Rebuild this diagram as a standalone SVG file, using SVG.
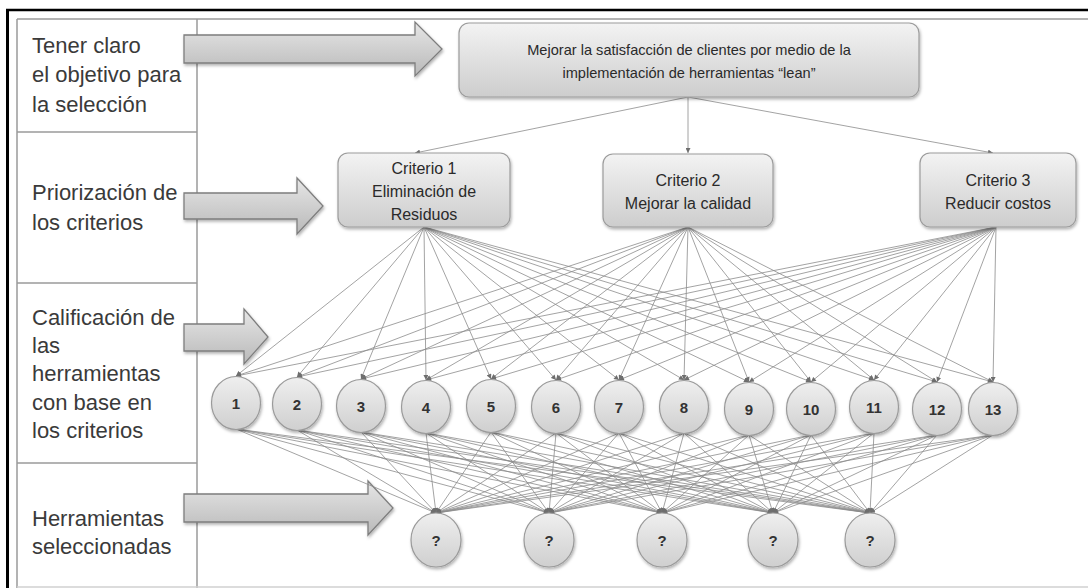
<svg xmlns="http://www.w3.org/2000/svg" width="1088" height="588" viewBox="0 0 1088 588">
<style>
.lbl{font-family:"Liberation Sans",Arial,sans-serif;font-size:22px;fill:#3a3a3a}
.nt{font-family:"Liberation Sans",Arial,sans-serif;font-size:16px;fill:#2a2a2a;text-anchor:middle}
.tt{font-family:"Liberation Sans",Arial,sans-serif;font-size:14.6px;fill:#2a2a2a;text-anchor:middle}
.num{font-family:"Liberation Sans",Arial,sans-serif;font-size:15px;font-weight:bold;fill:#333;text-anchor:middle}
.box{fill:url(#gBox);stroke:#9c9c9c;stroke-width:1.2;filter:url(#sh)}
.circ{fill:url(#gCirc);stroke:#9a9a9a;stroke-width:1.2;filter:url(#sh)}
.arr{fill:url(#gArr);stroke:#7e7e7e;stroke-width:1.3;filter:url(#sh)}
.grid{stroke:#9a9a9a;stroke-width:1.5;fill:none}
.conn line{stroke:#8c8c8c;stroke-width:0.8;marker-end:url(#ah)}
</style>
<defs>
<linearGradient id="gBox" x1="0" y1="0" x2="0" y2="1"><stop offset="0" stop-color="#f3f3f3"/><stop offset="1" stop-color="#cdcdcd"/></linearGradient>
<linearGradient id="gCirc" x1="0" y1="0" x2="0" y2="1"><stop offset="0" stop-color="#efefef"/><stop offset="1" stop-color="#cfcfcf"/></linearGradient>
<linearGradient id="gArr" x1="0" y1="0" x2="0" y2="1"><stop offset="0" stop-color="#e6e6e6"/><stop offset="1" stop-color="#b9b9b9"/></linearGradient>
<filter id="sh" x="-10%" y="-10%" width="130%" height="140%"><feDropShadow dx="1" dy="2" stdDeviation="1.5" flood-color="#000" flood-opacity="0.3"/></filter>
<marker id="ah" viewBox="0 0 10 10" refX="10" refY="5" markerWidth="6" markerHeight="5" markerUnits="userSpaceOnUse" orient="auto"><path d="M0,0 L10,5 L0,10 z" fill="#6e6e6e"/></marker>
</defs>
<rect width="1088" height="588" fill="#fff"/>
<line x1="7.5" y1="9" x2="7.5" y2="588" stroke="#000" stroke-width="3"/>
<line x1="6" y1="10" x2="1088" y2="10" stroke="#000" stroke-width="2.5"/>
<g id="table">
<line class="grid" x1="17" y1="19" x2="1088" y2="19"/>
<line class="grid" x1="17" y1="19" x2="17" y2="588"/>
<line class="grid" x1="197" y1="19" x2="197" y2="588"/>
<line class="grid" x1="17" y1="132" x2="197" y2="132"/>
<line class="grid" x1="17" y1="283" x2="197" y2="283"/>
<line class="grid" x1="17" y1="463" x2="197" y2="463"/>
<line x1="17" y1="587" x2="1088" y2="587" stroke="#d0d0d0" stroke-width="1.5"/>
</g>
<g id="labels">
<text class="lbl" x="32" y="53">Tener claro</text>
<text class="lbl" x="32" y="82">el objetivo para</text>
<text class="lbl" x="32" y="112">la selección</text>
<text class="lbl" x="32" y="200">Priorización de</text>
<text class="lbl" x="32" y="230">los criterios</text>
<text class="lbl" x="32" y="325">Calificación de</text>
<text class="lbl" x="32" y="353">las</text>
<text class="lbl" x="32" y="381">herramientas</text>
<text class="lbl" x="32" y="410">con base en</text>
<text class="lbl" x="32" y="438">los criterios</text>
<text class="lbl" x="32" y="526">Herramientas</text>
<text class="lbl" x="32" y="554">seleccionadas</text>
</g>
<g id="arrows">
<path class="arr" d="M184,35 L415,35 L415,22 L442,49 L415,76 L415,63 L184,63 Z"/>
<path class="arr" d="M184,193 L297,193 L297,178 L323,206 L297,234 L297,219 L184,219 Z"/>
<path class="arr" d="M184,324 L244,324 L244,309 L268,337 L244,364 L244,351 L184,351 Z"/>
<path class="arr" d="M184,494 L368,494 L368,481 L393,508 L368,535 L368,522 L184,522 Z"/>
</g>
<g class="conn" id="connectors">
<line x1="688" y1="97" x2="415" y2="153"/>
<line x1="688" y1="97" x2="688" y2="153"/>
<line x1="688" y1="97" x2="993" y2="153"/>
<line x1="424" y1="227" x2="236" y2="376"/>
<line x1="424" y1="227" x2="297" y2="377"/>
<line x1="424" y1="227" x2="361" y2="379"/>
<line x1="424" y1="227" x2="426" y2="380"/>
<line x1="424" y1="227" x2="491" y2="379"/>
<line x1="424" y1="227" x2="556" y2="380"/>
<line x1="424" y1="227" x2="619" y2="380"/>
<line x1="424" y1="227" x2="684" y2="380"/>
<line x1="424" y1="227" x2="749" y2="382"/>
<line x1="424" y1="227" x2="811" y2="382"/>
<line x1="424" y1="227" x2="874" y2="380"/>
<line x1="424" y1="227" x2="937" y2="382"/>
<line x1="424" y1="227" x2="993" y2="382"/>
<line x1="688" y1="227" x2="236" y2="376"/>
<line x1="688" y1="227" x2="297" y2="377"/>
<line x1="688" y1="227" x2="361" y2="379"/>
<line x1="688" y1="227" x2="426" y2="380"/>
<line x1="688" y1="227" x2="491" y2="379"/>
<line x1="688" y1="227" x2="556" y2="380"/>
<line x1="688" y1="227" x2="619" y2="380"/>
<line x1="688" y1="227" x2="684" y2="380"/>
<line x1="688" y1="227" x2="749" y2="382"/>
<line x1="688" y1="227" x2="811" y2="382"/>
<line x1="688" y1="227" x2="874" y2="380"/>
<line x1="688" y1="227" x2="937" y2="382"/>
<line x1="688" y1="227" x2="993" y2="382"/>
<line x1="996" y1="227" x2="236" y2="376"/>
<line x1="996" y1="227" x2="297" y2="377"/>
<line x1="996" y1="227" x2="361" y2="379"/>
<line x1="996" y1="227" x2="426" y2="380"/>
<line x1="996" y1="227" x2="491" y2="379"/>
<line x1="996" y1="227" x2="556" y2="380"/>
<line x1="996" y1="227" x2="619" y2="380"/>
<line x1="996" y1="227" x2="684" y2="380"/>
<line x1="996" y1="227" x2="749" y2="382"/>
<line x1="996" y1="227" x2="811" y2="382"/>
<line x1="996" y1="227" x2="874" y2="380"/>
<line x1="996" y1="227" x2="937" y2="382"/>
<line x1="996" y1="227" x2="993" y2="382"/>
<line x1="236" y1="429" x2="436" y2="513"/><line x1="236" y1="429" x2="549" y2="513"/><line x1="236" y1="429" x2="662" y2="513"/><line x1="236" y1="429" x2="773" y2="513"/><line x1="236" y1="429" x2="870" y2="513"/>
<line x1="297" y1="430" x2="436" y2="513"/><line x1="297" y1="430" x2="549" y2="513"/><line x1="297" y1="430" x2="662" y2="513"/><line x1="297" y1="430" x2="773" y2="513"/><line x1="297" y1="430" x2="870" y2="513"/>
<line x1="361" y1="432" x2="436" y2="513"/><line x1="361" y1="432" x2="549" y2="513"/><line x1="361" y1="432" x2="662" y2="513"/><line x1="361" y1="432" x2="773" y2="513"/><line x1="361" y1="432" x2="870" y2="513"/>
<line x1="426" y1="433" x2="436" y2="513"/><line x1="426" y1="433" x2="549" y2="513"/><line x1="426" y1="433" x2="662" y2="513"/><line x1="426" y1="433" x2="773" y2="513"/><line x1="426" y1="433" x2="870" y2="513"/>
<line x1="491" y1="432" x2="436" y2="513"/><line x1="491" y1="432" x2="549" y2="513"/><line x1="491" y1="432" x2="662" y2="513"/><line x1="491" y1="432" x2="773" y2="513"/><line x1="491" y1="432" x2="870" y2="513"/>
<line x1="556" y1="433" x2="436" y2="513"/><line x1="556" y1="433" x2="549" y2="513"/><line x1="556" y1="433" x2="662" y2="513"/><line x1="556" y1="433" x2="773" y2="513"/><line x1="556" y1="433" x2="870" y2="513"/>
<line x1="619" y1="433" x2="436" y2="513"/><line x1="619" y1="433" x2="549" y2="513"/><line x1="619" y1="433" x2="662" y2="513"/><line x1="619" y1="433" x2="773" y2="513"/><line x1="619" y1="433" x2="870" y2="513"/>
<line x1="684" y1="433" x2="436" y2="513"/><line x1="684" y1="433" x2="549" y2="513"/><line x1="684" y1="433" x2="662" y2="513"/><line x1="684" y1="433" x2="773" y2="513"/><line x1="684" y1="433" x2="870" y2="513"/>
<line x1="749" y1="435" x2="436" y2="513"/><line x1="749" y1="435" x2="549" y2="513"/><line x1="749" y1="435" x2="662" y2="513"/><line x1="749" y1="435" x2="773" y2="513"/><line x1="749" y1="435" x2="870" y2="513"/>
<line x1="811" y1="435" x2="436" y2="513"/><line x1="811" y1="435" x2="549" y2="513"/><line x1="811" y1="435" x2="662" y2="513"/><line x1="811" y1="435" x2="773" y2="513"/><line x1="811" y1="435" x2="870" y2="513"/>
<line x1="874" y1="433" x2="436" y2="513"/><line x1="874" y1="433" x2="549" y2="513"/><line x1="874" y1="433" x2="662" y2="513"/><line x1="874" y1="433" x2="773" y2="513"/><line x1="874" y1="433" x2="870" y2="513"/>
<line x1="937" y1="435" x2="436" y2="513"/><line x1="937" y1="435" x2="549" y2="513"/><line x1="937" y1="435" x2="662" y2="513"/><line x1="937" y1="435" x2="773" y2="513"/><line x1="937" y1="435" x2="870" y2="513"/>
<line x1="993" y1="435" x2="436" y2="513"/><line x1="993" y1="435" x2="549" y2="513"/><line x1="993" y1="435" x2="662" y2="513"/><line x1="993" y1="435" x2="773" y2="513"/><line x1="993" y1="435" x2="870" y2="513"/>
</g>
<g id="goal"><rect class="box" x="459" y="23" width="460" height="74" rx="10"/>
<text class="tt" x="689" y="55">Mejorar la satisfacción de clientes por medio de la</text>
<text class="tt" x="689" y="78">implementación de herramientas “lean”</text></g>
<g id="crit1"><rect class="box" x="338" y="153" width="172" height="74" rx="10"/>
<text class="nt" x="424" y="174">Criterio 1</text><text class="nt" x="424" y="197">Eliminación de</text><text class="nt" x="424" y="220">Residuos</text></g>
<g id="crit2"><rect class="box" x="603" y="154" width="170" height="73" rx="10"/>
<text class="nt" x="688" y="186">Criterio 2</text><text class="nt" x="688" y="209">Mejorar la calidad</text></g>
<g id="crit3"><rect class="box" x="920" y="153" width="156" height="74" rx="10"/>
<text class="nt" x="998" y="186">Criterio 3</text><text class="nt" x="998" y="209">Reducir costos</text></g>
<g id="t1"><ellipse class="circ" cx="236" cy="403" rx="24.5" ry="26.5"/><text class="num" x="236" y="409">1</text></g>
<g id="t2"><ellipse class="circ" cx="297" cy="404" rx="24.5" ry="26.5"/><text class="num" x="297" y="410">2</text></g>
<g id="t3"><ellipse class="circ" cx="361" cy="406" rx="24.5" ry="26.5"/><text class="num" x="361" y="412">3</text></g>
<g id="t4"><ellipse class="circ" cx="426" cy="407" rx="24.5" ry="26.5"/><text class="num" x="426" y="413">4</text></g>
<g id="t5"><ellipse class="circ" cx="491" cy="406" rx="24.5" ry="26.5"/><text class="num" x="491" y="412">5</text></g>
<g id="t6"><ellipse class="circ" cx="556" cy="407" rx="24.5" ry="26.5"/><text class="num" x="556" y="413">6</text></g>
<g id="t7"><ellipse class="circ" cx="619" cy="407" rx="24.5" ry="26.5"/><text class="num" x="619" y="413">7</text></g>
<g id="t8"><ellipse class="circ" cx="684" cy="407" rx="24.5" ry="26.5"/><text class="num" x="684" y="413">8</text></g>
<g id="t9"><ellipse class="circ" cx="749" cy="409" rx="24.5" ry="26.5"/><text class="num" x="749" y="415">9</text></g>
<g id="t10"><ellipse class="circ" cx="811" cy="409" rx="24.5" ry="26.5"/><text class="num" x="811" y="415">10</text></g>
<g id="t11"><ellipse class="circ" cx="874" cy="407" rx="24.5" ry="26.5"/><text class="num" x="874" y="413">11</text></g>
<g id="t12"><ellipse class="circ" cx="937" cy="409" rx="24.5" ry="26.5"/><text class="num" x="937" y="415">12</text></g>
<g id="t13"><ellipse class="circ" cx="993" cy="409" rx="24.5" ry="26.5"/><text class="num" x="993" y="415">13</text></g>
<g id="s1"><ellipse class="circ" cx="436" cy="540" rx="25" ry="27"/><text class="num" x="436" y="546">?</text></g>
<g id="s2"><ellipse class="circ" cx="549" cy="540" rx="25" ry="27"/><text class="num" x="549" y="546">?</text></g>
<g id="s3"><ellipse class="circ" cx="662" cy="540" rx="25" ry="27"/><text class="num" x="662" y="546">?</text></g>
<g id="s4"><ellipse class="circ" cx="773" cy="540" rx="25" ry="27"/><text class="num" x="773" y="546">?</text></g>
<g id="s5"><ellipse class="circ" cx="870" cy="540" rx="25" ry="27"/><text class="num" x="870" y="546">?</text></g>
</svg>
